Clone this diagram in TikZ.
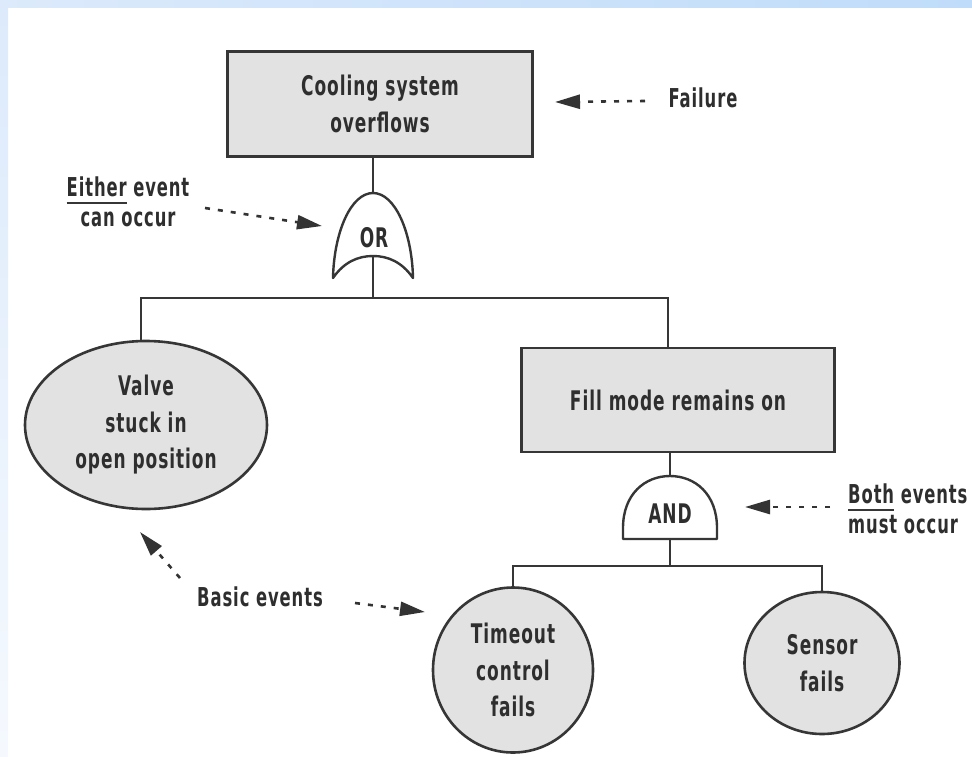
\documentclass[tikz,border=0pt]{standalone}
\usepackage{fontspec}
\setmainfont{DejaVu Sans Bold}[FakeStretch=0.63, LetterSpace=3.5]
\usetikzlibrary{arrows.meta,shapes.geometric}

\definecolor{txt}{HTML}{2E2E2E}
\definecolor{edge}{HTML}{363636}
\definecolor{boxfill}{HTML}{E2E2E2}
\definecolor{arr}{HTML}{333333}
\definecolor{stripA}{HTML}{DCEAFB}
\definecolor{stripB}{HTML}{BFDCFA}
\definecolor{stripC}{HTML}{F5F9FE}

% word with a detached underline
\newcommand\ulword[1]{\setbox0\hbox{#1}\rlap{\raisebox{-7pt}{\color{edge}\rule{\wd0}{1.6pt}}}\box0\relax}

\tikzset{
  every node/.style={text=txt, font=\fontsize{27}{36.5}\selectfont, inner sep=0pt},
  note/.style={font=\fontsize{26}{30}\selectfont},
  evbox/.style={draw=edge, fill=boxfill, line width=2.6pt, align=center},
  evell/.style={ellipse, draw=edge, fill=boxfill, line width=2.6pt, align=center},
  gate/.style={draw=edge, fill=white, line width=2.4pt, line join=round},
  link/.style={draw=edge, line width=2.4pt},
  pointer/.style={draw=arr, line width=2.6pt, dash pattern=on 5pt off 8pt,
    -{Triangle[length=25pt,width=14pt]}},
}

\begin{document}
\begin{tikzpicture}[x=1pt,y=-1pt]
\useasboundingbox (0,0) rectangle (972,756);
\fill[white] (0,0) rectangle (972,756);
% page frame strips
\shade[top color=stripA, bottom color=stripC] (0,0) rectangle (8,756);
\shade[left color=stripA, right color=stripB] (0,0) rectangle (972,7);

% top event
\node[evbox, minimum width=305pt, minimum height=105pt] (top) at (380,104)
  {Cooling system\\overflows};

% OR gate
\path[gate] (333,278) .. controls (334,232) and (351,193) .. (373,193)
  .. controls (395,193) and (412,232) .. (413,278)
  .. controls (402,262) and (388,256) .. (373,256)
  .. controls (358,256) and (344,262) .. (333,278) -- cycle;
\coordinate (ortop) at (373,193);
\coordinate (orbase) at (373,256);
\node (orlbl) at (374,238) {OR};

% second level events
\node[evell, minimum width=242pt, minimum height=168pt] (valve) at (146,425)
  {Valve\\stuck in\\open position};
\node[evbox, minimum width=313pt, minimum height=104pt] (fill) at (678,400)
  {Fill mode remains on};

% AND gate
\path[gate] (623,539) -- (623,528) .. controls (623,494) and (645,476) .. (670,476)
  .. controls (695,476) and (717,494) .. (717,528) -- (717,539) -- cycle;
\coordinate (andtop) at (670,476);
\coordinate (andbase) at (670,539);
\node (andlbl) at (670,514) {AND};

% basic events under AND
\node[evell, minimum width=160pt, minimum height=165pt] (timeout) at (513,670)
  {Timeout\\control\\fails};
\node[evell, minimum width=155pt, minimum height=142pt] (sensor) at (822,663)
  {Sensor\\fails};

% tree connectors
\coordinate (orjoin) at (373,298);
\coordinate (lft) at (141,298);
\coordinate (rgt) at (668,298);
\coordinate (andjoin) at (670,566);
\draw[link] (top.south -| ortop) -- (ortop);
\draw[link] (orbase) -- (orjoin);
\draw[link] (valve.north -| lft) -- (lft) -- (rgt) -- (fill.north -| rgt);
\draw[link] (fill.south -| andtop) -- (andtop);
\draw[link] (andbase) -- (andjoin);
\draw[link] (timeout.north) |- (andjoin) -| (sensor.north);

% annotations
\node[note] (failure) at (703,98) {Failure};
\node[note, align=center] (either) at (128,202) {\ulword{Either} event\\can occur};
\node[note, align=left, anchor=west] (both) at (848,509) {\ulword{Both} events\\must occur};
\node[note] (basic) at (260,597) {Basic events};

\coordinate (failTail) at (645,101);
\coordinate (failTip) at (555,102);
\coordinate (eitherTail) at (205,208);
\coordinate (eitherTip) at (322,226);
\coordinate (bothTail) at (830,507);
\coordinate (bothTip) at (745,507);
\coordinate (basicTailA) at (180,578);
\coordinate (basicTipA) at (140,532);
\coordinate (basicTailB) at (355,603);
\coordinate (basicTipB) at (425,612);

\draw[pointer] (failTail) -- (failTip);
\draw[pointer] (eitherTail) -- (eitherTip);
\draw[pointer] (bothTail) -- (bothTip);
\draw[pointer] (basicTailA) -- (basicTipA);
\draw[pointer] (basicTailB) -- (basicTipB);
\end{tikzpicture}
\end{document}
